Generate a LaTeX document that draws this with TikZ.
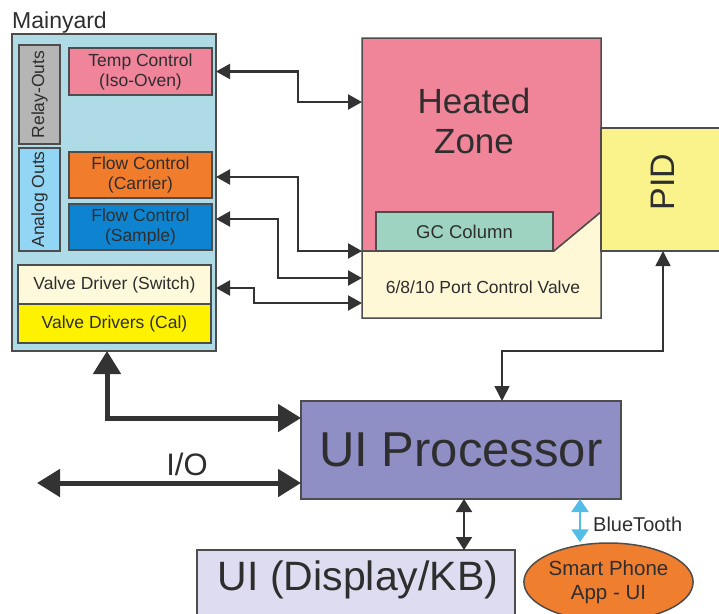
\documentclass[tikz,border=0pt]{standalone}
\usepackage{fontspec}
\setmainfont{Liberation Sans}
\usetikzlibrary{arrows.meta,shapes.geometric,calc}

\definecolor{edge}{HTML}{4D4D4D}
\definecolor{ink}{HTML}{2E2E2E}
\definecolor{yardblue}{HTML}{AEDBE6}
\definecolor{relaygray}{HTML}{B5B5B5}
\definecolor{analogblue}{HTML}{93D5F5}
\definecolor{temppink}{HTML}{F0849A}
\definecolor{carrierorange}{HTML}{F07C2C}
\definecolor{sampleblue}{HTML}{0E84D0}
\definecolor{switchcream}{HTML}{FDF9DA}
\definecolor{calyellow}{HTML}{FFF200}
\definecolor{heatpink}{HTML}{F08599}
\definecolor{gcteal}{HTML}{9ED3C1}
\definecolor{valvecream}{HTML}{FEF8D6}
\definecolor{pidyellow}{HTML}{FAF38B}
\definecolor{procpurple}{HTML}{8F8FC6}
\definecolor{displaylav}{HTML}{DEDCF0}
\definecolor{phoneorange}{HTML}{F07E2F}
\definecolor{btblue}{HTML}{52BDE6}
\definecolor{wire}{HTML}{333333}

\tikzset{
  blk/.style={draw=edge, line width=1.5pt, rectangle, inner sep=0pt, outer sep=0pt,
              text=ink, align=center, font=\fontsize{17.5}{20}\selectfont},
  wirearrow/.style={draw=wire, line width=2.2pt,
              {Triangle[length=14pt,width=15pt]}-{Triangle[length=14pt,width=15pt]}},
  fatarrow/.style={draw=wire, line width=5pt,
              {Triangle[length=23pt,width=27pt]}-{Triangle[length=23pt,width=27pt]}},
  slimarrow/.style={draw=wire, line width=1.5pt,
              {Triangle[length=15pt,width=15pt]}-{Triangle[length=15pt,width=15pt]}},
  btarrow/.style={draw=btblue, line width=2.5pt,
              {Triangle[length=13pt,width=17pt]}-{Triangle[length=13pt,width=17pt]}},
  lbl/.style={text=ink, inner sep=0pt},
}

\begin{document}
\begin{tikzpicture}[x=1pt,y=-1pt]
\useasboundingbox (0,0) rectangle (719,613);

% ---------- Mainyard board ----------
\node[lbl, anchor=base west, font=\fontsize{23}{26}\selectfont] (yardtitle) at (12,28) {Mainyard};
\node[blk, fill=yardblue, minimum width=204pt, minimum height=317pt] (main) at (114,192.5) {};
\node[blk, fill=relaygray, minimum width=41pt, minimum height=99pt] (relay) at (39.5,94.5) {};
\node[lbl, rotate=90, font=\fontsize{17.5}{20}\selectfont] (relaylabel) at (relay.center) {Relay-Outs};
\node[blk, fill=analogblue, minimum width=41pt, minimum height=103pt] (analog) at (39.5,199.5) {};
\node[lbl, rotate=90, font=\fontsize{17.5}{20}\selectfont] (analoglabel) at (analog.center) {Analog Outs};
\node[blk, fill=temppink, minimum width=143pt, minimum height=47pt] (tempc) at (140.5,71.5) {Temp Control\\(Iso-Oven)};
\node[blk, fill=carrierorange, minimum width=143pt, minimum height=46pt] (carrier) at (140.5,175) {Flow Control\\(Carrier)};
\node[blk, fill=sampleblue, minimum width=143pt, minimum height=46pt] (sample) at (140.5,227) {Flow Control\\(Sample)};
\node[blk, fill=switchcream, minimum width=193pt, minimum height=39pt] (switch) at (114.5,284.5) {Valve Driver (Switch)};
\node[blk, fill=calyellow, minimum width=193pt, minimum height=39pt] (cal) at (114.5,323.5) {Valve Drivers (Cal)};

% ---------- Heated zone with column and valve ----------
\node[minimum width=239pt, minimum height=213pt, inner sep=0pt, outer sep=0pt] (hz) at (481.5,144.5) {};
\node[minimum width=239pt, minimum height=67pt, inner sep=0pt, outer sep=0pt] (valve) at (481.5,284.5) {};
\filldraw[fill=heatpink, draw=edge, line width=1.5pt]
  (hz.south west) -- (hz.north west) -- (hz.north east) -- ($(hz.south east)+(0,-39)$)
  -- ($(hz.south east)+(-47,0)$) -- cycle;
\node[blk, fill=gcteal, minimum width=177pt, minimum height=39pt, font=\fontsize{18.5}{20}\selectfont] (gc) at (464.5,231.5) {GC Column};
\filldraw[fill=valvecream, draw=edge, line width=1.5pt]
  (valve.north west) -- ($(valve.north east)+(-47,0)$) -- ($(valve.north east)+(0,-39)$)
  -- (valve.south east) -- (valve.south west) -- cycle;
\node[lbl, font=\fontsize{35}{40}\selectfont, align=center] (hzlabel) at (474,121) {Heated\\Zone};
\node[lbl, font=\fontsize{17.5}{20}\selectfont] (valvelabel) at (483,287) {6/8/10 Port Control Valve};

% ---------- PID ----------
\node[blk, fill=pidyellow, minimum width=119pt, minimum height=123pt] (pid) at (660.5,189.5) {};
\node[lbl, rotate=90, font=\fontsize{34}{38}\selectfont] (pidlabel) at (663,182) {PID};

% ---------- UI processor and peripherals ----------
\node[blk, fill=procpurple, minimum width=320pt, minimum height=98pt,
      font=\fontsize{49}{54}\selectfont] (ui) at (461,450) {UI Processor};
\node[blk, fill=displaylav, minimum width=318pt, minimum height=74pt] (disp) at (356,587) {};
\node[lbl, font=\fontsize{41}{46}\selectfont] (displabel) at (358,580) {UI (Display/KB)};
\node[draw=edge, line width=1.5pt, fill=phoneorange, ellipse, inner sep=0pt,
      minimum width=151pt, minimum height=78pt, text=ink, align=center,
      font=\fontsize{20.5}{24}\selectfont] (phone) at (608.5,582) {Smart Phone\\App - UI};

% ---------- Connectors ----------
\draw[wirearrow] (tempc.east -| main.east) -- ++(82,0) |- ($(hz.north west)+(0,64)$);
\draw[wirearrow] (carrier.east -| main.east) ++(0,2) -- ++(82,0) |- (hz.south west);
\draw[wirearrow] ([yshift=8pt]sample.east -| main.east) -- ++(62,0) |- ($(valve.north west)+(0,27)$);
\draw[wirearrow] ([yshift=-3.5pt]switch.east -| main.east) -- ++(38,0) |- ($(valve.north west)+(0,52)$);

\draw[slimarrow] ([xshift=2.5pt]pid.south) |- ($(ui.north)+(41,-50)$) -- ([xshift=41pt]ui.north);
\draw[slimarrow, line width=2pt, {Triangle[length=13pt,width=16pt]}-{Triangle[length=13pt,width=16pt]}]
  ([xshift=3pt]ui.south) -- ([xshift=3pt]ui.south |- disp.north);
\draw[btarrow] ([xshift=119pt]ui.south) -- ([xshift=119pt]ui.south |- phone.north);
\node[lbl, anchor=west, font=\fontsize{20}{24}\selectfont] (btlabel) at (593,524) {BlueTooth};

\draw[fatarrow] ([xshift=-7pt]main.south) |- ([yshift=32pt]ui.west);
\coordinate (ioend) at (37,483);
\draw[fatarrow] (ioend) -- ([yshift=-33pt]ui.west);
\node[lbl, font=\fontsize{31}{34}\selectfont] (iolabel) at (187,464) {I/O};
\end{tikzpicture}
\end{document}
